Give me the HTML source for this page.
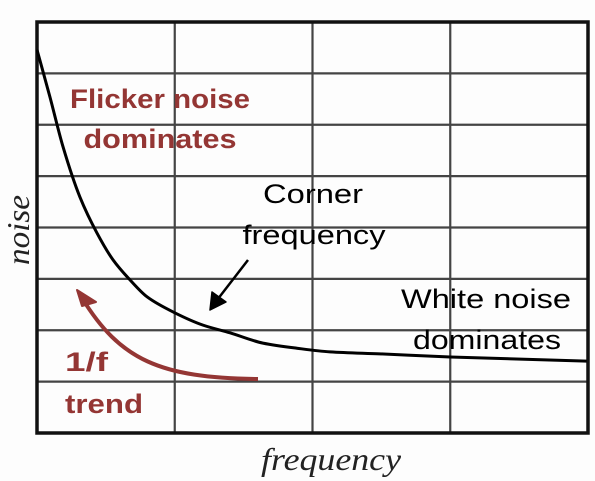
<!DOCTYPE html>
<html><head><meta charset="utf-8"><style>
html,body{margin:0;padding:0;background:#fff;}
svg{display:block;}
</style></head><body>
<svg id="chart" width="595" height="481" viewBox="0 0 595 481" xmlns="http://www.w3.org/2000/svg">
<rect x="0" y="0" width="595" height="481" fill="#fdfdfd"/>
<g id="grid"></g>
<rect x="37" y="22" width="551" height="411" fill="none" stroke="#111" stroke-width="3.5"/>
<path id="curve" fill="none" stroke="#000" stroke-width="3"/>
<text x="160" y="108" text-anchor="middle" font-family="Liberation Sans, sans-serif" font-weight="bold" font-size="27" fill="#943634" textLength="180" lengthAdjust="spacingAndGlyphs">Flicker noise</text>
<text x="160" y="148" text-anchor="middle" font-family="Liberation Sans, sans-serif" font-weight="bold" font-size="27" fill="#943634" textLength="153" lengthAdjust="spacingAndGlyphs">dominates</text>
<text x="313" y="203" text-anchor="middle" font-family="Liberation Sans, sans-serif" font-size="27" fill="#000" textLength="100" lengthAdjust="spacingAndGlyphs">Corner</text>
<text x="314" y="244" text-anchor="middle" font-family="Liberation Sans, sans-serif" font-size="27" fill="#000" textLength="143" lengthAdjust="spacingAndGlyphs">frequency</text>
<text x="486" y="308" text-anchor="middle" font-family="Liberation Sans, sans-serif" font-size="27" fill="#000" textLength="170" lengthAdjust="spacingAndGlyphs">White noise</text>
<text x="487" y="349" text-anchor="middle" font-family="Liberation Sans, sans-serif" font-size="27" fill="#000" textLength="148" lengthAdjust="spacingAndGlyphs">dominates</text>
<text x="65" y="371" font-family="Liberation Sans, sans-serif" font-weight="bold" font-size="27" fill="#943634" textLength="43" lengthAdjust="spacingAndGlyphs">1/f</text>
<text x="65" y="413" font-family="Liberation Sans, sans-serif" font-weight="bold" font-size="27" fill="#943634" textLength="78" lengthAdjust="spacingAndGlyphs">trend</text>
<path d="M258,379 C160,378 120,360 82,298" fill="none" stroke="#943634" stroke-width="4"/>
<polygon points="77,290 96,302 82,306" fill="#943634" stroke="#943634" stroke-width="2" stroke-linejoin="round"/>
<line x1="248" y1="260" x2="214" y2="304" stroke="#000" stroke-width="2.5"/>
<polygon points="210,310 212,292 226,302" fill="#000" stroke="#000" stroke-width="1.5" stroke-linejoin="round"/>
<text transform="translate(29,230) rotate(-90)" text-anchor="middle" font-family="Liberation Serif, serif" font-style="italic" font-size="32" fill="#222" textLength="70" lengthAdjust="spacingAndGlyphs">noise</text>
<text x="331" y="470" text-anchor="middle" font-family="Liberation Serif, serif" font-style="italic" font-size="32" fill="#222" textLength="140" lengthAdjust="spacingAndGlyphs">frequency</text>
</svg>
<script>
const freqs = [0, 0.094, 0.189, 0.312, 0.436, 0.552, 0.675, 0.799, 1.0, 1.205, 1.401, 1.64, 1.887, 2.127, 2.49, 3.0, 3.99];
const noiseVals = [7.46, 6.54, 5.57, 4.59, 3.89, 3.37, 2.98, 2.65, 2.34, 2.10, 1.95, 1.75, 1.65, 1.58, 1.54, 1.48, 1.40];
const xGridTicks = [1, 2, 3];
const yGridTicks = [1, 2, 3, 4, 5, 6, 7];
const X0 = 37, X1 = 588, Y0 = 433, Y1 = 22;
function xs(v){ return X0 + v/4*(X1-X0); }
function ys(v){ return Y0 - v/8*(Y0-Y1); }
const NS = 'http://www.w3.org/2000/svg';
const grid = document.getElementById('grid');
xGridTicks.forEach(function(t){
  const l = document.createElementNS(NS,'line');
  l.setAttribute('x1',xs(t)); l.setAttribute('x2',xs(t));
  l.setAttribute('y1',Y1); l.setAttribute('y2',Y0);
  l.setAttribute('stroke','#444'); l.setAttribute('stroke-width','2.2');
  
  
  grid.appendChild(l);
});
yGridTicks.forEach(function(t){
  const l = document.createElementNS(NS,'line');
  l.setAttribute('x1',X0); l.setAttribute('x2',X1);
  l.setAttribute('y1',ys(t)); l.setAttribute('y2',ys(t));
  l.setAttribute('stroke','#444'); l.setAttribute('stroke-width','2.2');
  
  
  grid.appendChild(l);
});
// monotone cubic (Fritsch-Carlson) through the points
const px = freqs.map(xs), py = noiseVals.map(ys);
const n = px.length, dx = [], sl = [], m = [];
for (let i=0;i<n-1;i++){ dx[i]=px[i+1]-px[i]; sl[i]=(py[i+1]-py[i])/dx[i]; }
m[0]=sl[0]; m[n-1]=sl[n-2];
for (let i=1;i<n-1;i++){
  if (sl[i-1]*sl[i] <= 0) m[i]=0;
  else { const w1=2*dx[i]+dx[i-1], w2=dx[i]+2*dx[i-1]; m[i]=(w1+w2)/(w1/sl[i-1]+w2/sl[i]); }
}
let d = 'M' + px[0] + ',' + py[0];
for (let i=0;i<n-1;i++){
  const h = dx[i]/3;
  d += ' C'+(px[i]+h)+','+(py[i]+m[i]*h)+' '+(px[i+1]-h)+','+(py[i+1]-m[i+1]*h)+' '+px[i+1]+','+py[i+1];
}
document.getElementById('curve').setAttribute('d', d);
</script>
</body></html>
